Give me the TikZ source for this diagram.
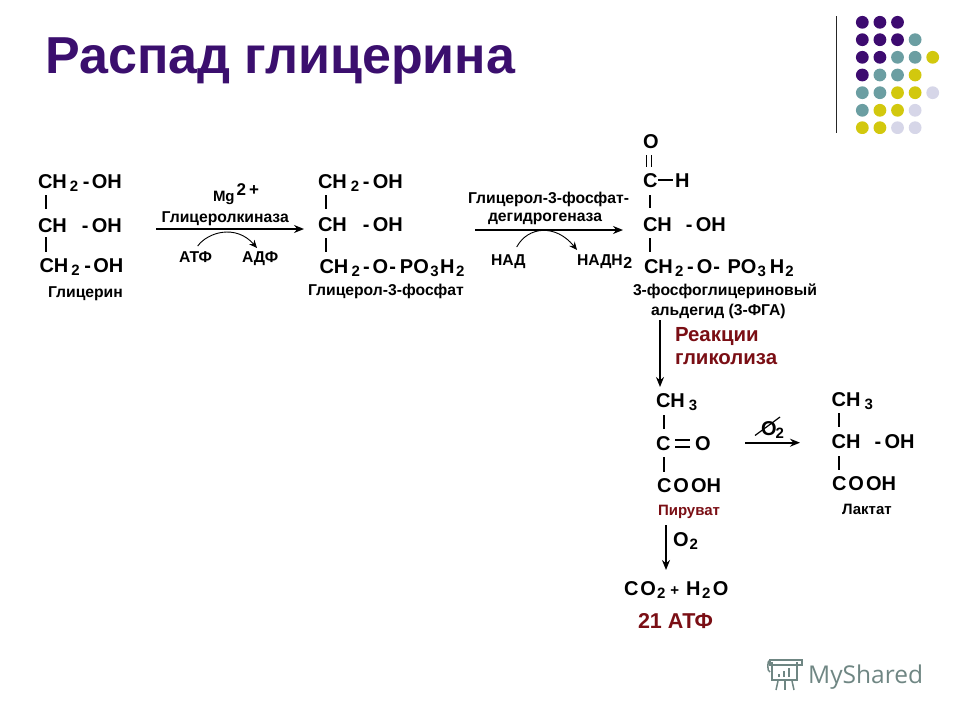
\documentclass[tikz,border=0pt]{standalone}
\usepackage{fontspec}
\usetikzlibrary{arrows.meta}
\setmainfont{Liberation Sans}
\newfontfamily\markfont{Open Sans}
\definecolor{ttl}{HTML}{3B0F6E}
\definecolor{dp}{HTML}{3D0B70}
\definecolor{dt}{HTML}{6B9EA2}
\definecolor{dy}{HTML}{D2C80E}
\definecolor{dl}{HTML}{D6D6E8}
\definecolor{dred}{HTML}{7A0E14}
\definecolor{wm}{HTML}{6F8683}
\newcommand{\lo}[1]{\raisebox{-3pt}{\fontsize{15}{15}\selectfont #1}}
\newcommand{\kk}[1]{\kern #1pt\relax}
\tikzset{
  x=1pt,y=-1pt,
  chem/.style={anchor=base west,inner sep=0pt,outer sep=0pt,font=\bfseries\fontsize{20}{20}\selectfont},
  lab/.style={anchor=base west,inner sep=0pt,outer sep=0pt,font=\bfseries\fontsize{15.7}{16}\selectfont},
  redlab/.style={anchor=base west,inner sep=0pt,outer sep=0pt,text=dred,font=\bfseries\fontsize{20.4}{20}\selectfont},
  bond/.style={line width=1.8pt,black},
  arr/.style={line width=1.6pt,black,-{Stealth[length=10pt,width=8pt]}},
  curv/.style={line width=0.9pt,black,-{Stealth[length=8pt,width=7pt]}},
  dot/.style={circle,inner sep=0pt,minimum size=12.8pt,fill=#1},
}
\begin{document}
\begin{tikzpicture}
\useasboundingbox (0,0) rectangle (960,720);
% title
\node[anchor=base west,inner sep=0pt,text=ttl,font=\bfseries\fontsize{52}{52}\selectfont] (title) at (45,73) {Распад глицерина};
% decor
\coordinate (r1) at (836.5,16); \coordinate (r2) at (836.5,133);
\draw[line width=1pt,black!85] (r1) -- (r2);
\begin{scope}
\clip (850,10) rectangle (945,133);
\foreach \r/\y/\cols in {1/22.3/{dp,dp,dp},2/39.7/{dp,dp,dp,dt},3/57.3/{dp,dp,dt,dt,dy},4/75/{dp,dt,dt,dy},5/92.7/{dt,dt,dy,dy,dl},6/110.3/{dt,dy,dy,dl},7/127.7/{dy,dy,dl,dl}}{
  \foreach \c [count=\i from 0] in \cols {
    \node[dot=\c] (dot\r\i) at ({862.3+17.6*\i},\y) {};
  }
}
\end{scope}
% glycerol
\node[chem] (g1) at (38,188) {CH\kk{3}\lo{2}\kk{4.7}-\kk{2.3}OH};
\node[chem] (g2) at (38,232) {CH\kk{15}-\kk{3.3}OH};
\node[chem] (g3) at (39.5,272.7) {CH\kk{3}\lo{2}\kk{4.7}-\kk{2.3}OH};
\node[lab] (gn) at (48,297.7) {Глицерин};
\coordinate (gb1) at (46,195); \coordinate (gb2) at (46,209);
\coordinate (gb3) at (46,237); \coordinate (gb4) at (46,252);
\draw[bond] (gb1) -- (gb2); \draw[bond] (gb3) -- (gb4);
% arrow 1
\coordinate (a1s) at (156,229); \coordinate (a1e) at (304,229);
\draw[arr] (a1s) -- (a1e);
\node[lab] (mg) at (213,201.7) {\fontsize{15}{15}\selectfont Mg\raisebox{6.5pt}{\kk{2}\fontsize{17}{17}\selectfont 2\kk{3}+}};
\node[lab] (gk) at (161.7,222.7) {Глицеролкиназа};
\node[lab] (atf) at (179,262.7) {АТФ};
\node[lab] (adf) at (242,262.7) {АДФ};
\coordinate (c1s) at (197.7,246); \coordinate (c1e) at (257,248);
\draw[curv] (c1s) .. controls (208,232) and (236,224) .. (c1e);
% G3P
\node[chem] (p1) at (318,188) {CH\kk{4}\lo{2}\kk{3.7}-\kk{3.3}OH};
\node[chem] (p2) at (318,231) {CH\kk{16}-\kk{3.3}OH};
\node[chem] (p3) at (319.5,273) {CH\kk{3.3}\lo{2}\kk{3}-\kk{3}O\kk{1}-\kk{4}PO\kk{1.5}\lo{3}\kk{1.5}H\kk{1.5}\lo{2}};
\node[lab] (pn) at (308,295) {Глицерол-3-фосфат};
\coordinate (pb1) at (325.7,195); \coordinate (pb2) at (325.7,209);
\coordinate (pb3) at (325.7,238); \coordinate (pb4) at (325.7,252);
\draw[bond] (pb1) -- (pb2); \draw[bond] (pb3) -- (pb4);
% arrow 2
\coordinate (a2s) at (475,230); \coordinate (a2e) at (623,230);
\draw[arr] (a2s) -- (a2e);
\node[lab] (d1) at (468,203) {Глицерол-3-фосфат-};
\node[lab] (d2) at (488,221.7) {дегидрогеназа};
\node[lab] (nad) at (491,265) {НАД};
\node[lab] (nadh) at (577,265) {НАДН\kk{0.5}\raisebox{-3pt}{\fontsize{16}{16}\selectfont 2}};
\coordinate (c2s) at (516.7,247); \coordinate (c2e) at (577,250);
\draw[curv] (c2s) .. controls (528,226) and (556,224) .. (c2e);
% 3-PGA
\node[chem] (a1) at (643,148) {O};
\node[chem] (a2) at (643,187.7) {C};
\node[chem] (a3) at (675,187.7) {H};
\node[chem] (a4) at (643,231) {CH\kk{14}-\kk{3.3}OH};
\node[chem] (a5) at (644,273) {CH\kk{2.3}\lo{2}\kk{3.7}-\kk{3}O\kk{1}-\kk{7.5}PO\kk{1}\lo{3}\kk{4}H\kk{1}\lo{2}};
\node[lab] (an1) at (633,295) {3-фосфоглицериновый};
\node[lab] (an2) at (651,315) {альдегид (3-ФГА)};
\coordinate (ad1a) at (646.5,155); \coordinate (ad1b) at (646.5,167);
\coordinate (ad2a) at (651.5,155); \coordinate (ad2b) at (651.5,167);
\draw[bond] (ad1a) -- (ad1b); \draw[bond] (ad2a) -- (ad2b);
\coordinate (ah1) at (658,180); \coordinate (ah2) at (673,180);
\draw[bond] (ah1) -- (ah2);
\coordinate (ab1) at (650,195); \coordinate (ab2) at (650,208);
\coordinate (ab3) at (650,238); \coordinate (ab4) at (650,252);
\draw[bond] (ab1) -- (ab2); \draw[bond] (ab3) -- (ab4);
% glycolysis arrow
\coordinate (a3s) at (660,320); \coordinate (a3e) at (660,387);
\draw[arr] (a3s) -- (a3e);
\node[redlab] (rk1) at (675,341.7) {Реакции};
\node[redlab] (rk2) at (675,364) {гликолиза};
% pyruvate
\node[chem] (y1) at (656,407) {CH\kk{4}\lo{3}};
\node[chem] (y2) at (656,450) {C};
\node[chem] (y3) at (695,450) {O};
\node[chem] (y4) at (657,492) {C\kk{2}O\kk{2}OH};
\node[lab,text=dred,font=\bfseries\fontsize{15}{15}\selectfont] (yn) at (658,515) {Пируват};
\coordinate (yb1) at (664,415); \coordinate (yb2) at (664,429);
\coordinate (yb3) at (664,457); \coordinate (yb4) at (664,472);
\draw[bond] (yb1) -- (yb2); \draw[bond] (yb3) -- (yb4);
\coordinate (ye1) at (675,440); \coordinate (ye2) at (690,440);
\coordinate (ye3) at (675,446.7); \coordinate (ye4) at (690,446.7);
\draw[bond,line width=1.6pt] (ye1) -- (ye2); \draw[bond,line width=1.6pt] (ye3) -- (ye4);
% anaerobic arrow
\coordinate (a4s) at (745,442.7); \coordinate (a4e) at (800,442.7);
\draw[arr] (a4s) -- (a4e);
\node[chem] (no2) at (761,435) {O\kk{-1}\lo{2}};
\coordinate (sl1) at (755,435.5); \coordinate (sl2) at (780,417);
\draw[line width=1.2pt,black] (sl1) -- (sl2);
% lactate
\node[chem] (l1) at (831.7,406.7) {CH\kk{4}\lo{3}};
\node[chem] (l2) at (831.7,448) {CH\kk{14}-\kk{3.3}OH};
\node[chem] (l3) at (832,490.7) {C\kk{2}O\kk{2}OH};
\node[lab,font=\bfseries\fontsize{15}{15}\selectfont] (ln) at (842,514) {Лактат};
\coordinate (lb1) at (839,413); \coordinate (lb2) at (839,427);
\coordinate (lb3) at (839,456); \coordinate (lb4) at (839,470);
\draw[bond] (lb1) -- (lb2); \draw[bond] (lb3) -- (lb4);
% aerobic arrow
\coordinate (a5s) at (666,525); \coordinate (a5e) at (666,570);
\draw[arr] (a5s) -- (a5e);
\node[chem] (o2) at (673,546) {O\kk{1}\lo{2}};
\node[chem] (co2) at (624,595) {C\kk{2}O\kk{1}\lo{2}\kk{5}{\fontsize{15}{15}\selectfont +}\kk{7}H\kk{1.5}\lo{2}\kk{2.5}O};
\node[redlab,font=\bfseries\fontsize{21.5}{21}\selectfont] (atp) at (638,628) {21 АТФ};
% watermark
\node[anchor=base west,inner sep=0pt,text=wm,font=\markfont\fontsize{24.5}{25}\selectfont] (ms) at (808,683) {MyShared};
\begin{scope}[wm,line width=1.5pt]
\draw (772,662) -- (772,680) -- (797,680) -- (797,662);
\draw (770,660) rectangle (802,665);
\draw (770,660) .. controls (767,660) and (767,672) .. (770,672);
\fill (778,674) rectangle (780,677);
\fill (783,671) rectangle (785,677);
\fill (788,668) rectangle (790,677);
\draw (778,681) -- (776,690); \draw (785,681) -- (785,690); \draw (792,681) -- (794,690);
\end{scope}
\end{tikzpicture}
\end{document}
